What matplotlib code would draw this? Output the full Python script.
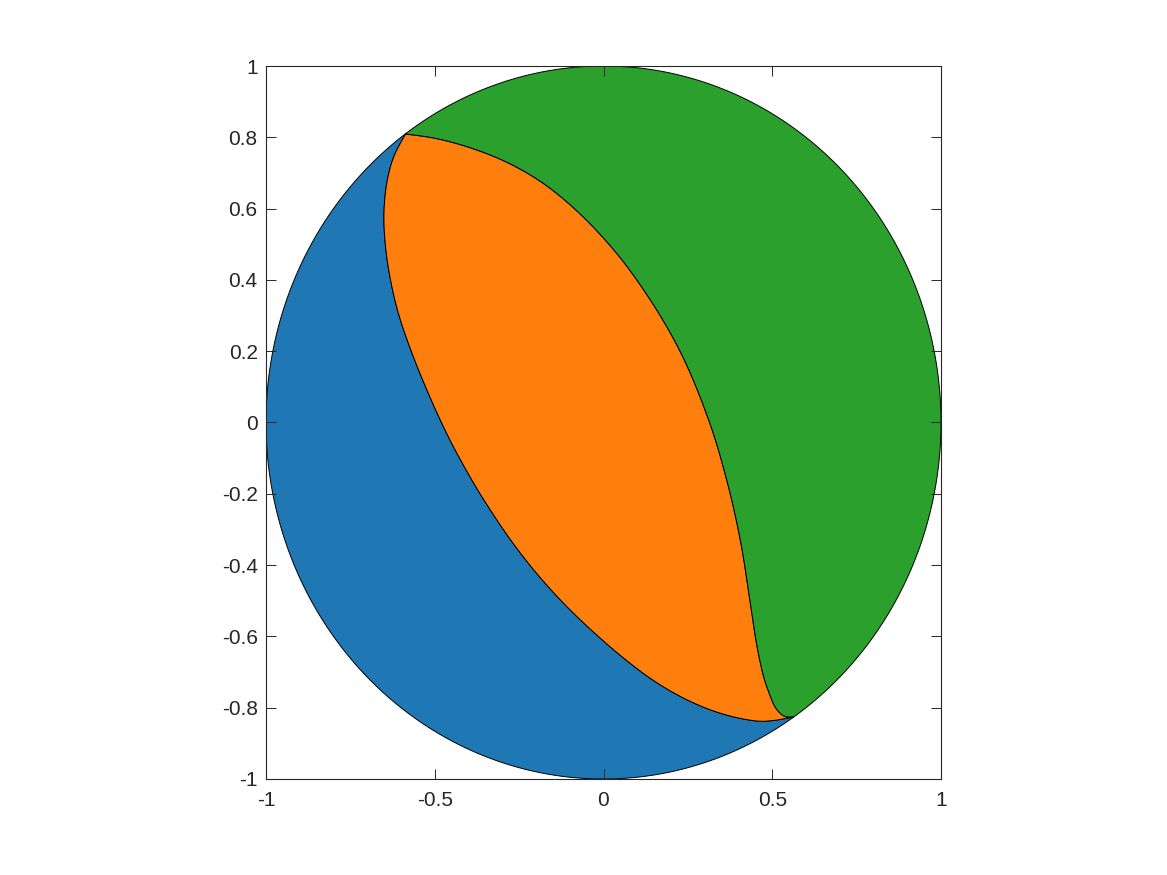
import numpy as np
import matplotlib
matplotlib.use("Agg")
import matplotlib.pyplot as plt
from matplotlib.patches import Polygon

# Boundary between blue and orange regions (from top cusp down to bottom junction)
left_x = [-0.5867, -0.6228, -0.6424, -0.6524, -0.6542, -0.6504, -0.6406, -0.6276,
          -0.6127, -0.5881, -0.5585, -0.5289, -0.4942, -0.4548, -0.4154, -0.3724,
          -0.3363, -0.2770, -0.2080, -0.1387, -0.0599, 0.0193, 0.0933, 0.1873,
          0.2859, 0.3846, 0.4539, 0.5031, 0.5319, 0.5615]
left_y = [0.8093, 0.7456, 0.6895, 0.6334, 0.5773, 0.5119, 0.4466, 0.3717,
          0.3156, 0.2407, 0.1753, 0.1004, 0.0258, -0.0491, -0.1240, -0.1893,
          -0.2454, -0.3296, -0.4137, -0.4886, -0.5633, -0.6289, -0.6886, -0.7504,
          -0.7972, -0.8297, -0.8410, -0.8365, -0.8317, -0.8261]

# Boundary between orange and green regions (from top cusp down to bottom junction)
right_x = [-0.5867, -0.4942, -0.3956, -0.2969, -0.2178, -0.1289, -0.0696, -0.0104,
           0.0489, 0.1081, 0.1576, 0.2068, 0.2465, 0.2661, 0.3058, 0.3452,
           0.3748, 0.3994, 0.4193, 0.4391, 0.4519, 0.4637, 0.4836, 0.5031,
           0.5327, 0.5615]
right_y = [0.8093, 0.7972, 0.7736, 0.7363, 0.6990, 0.6381, 0.5868, 0.5307,
           0.4651, 0.3905, 0.3156, 0.2407, 0.1661, 0.1192, 0.0258, -0.0864,
           -0.1986, -0.2923, -0.4045, -0.5352, -0.6101, -0.6850, -0.7504, -0.7972,
           -0.8233, -0.8261]

colors = ["#1f77b4", "#ff7f0e", "#2ca02c"]

xticks = [-1, -0.5, 0, 0.5, 1]
xticklabels = ["-1", "-0.5", "0", "0.5", "1"]
yticks = [-1, -0.8, -0.6, -0.4, -0.2, 0, 0.2, 0.4, 0.6, 0.8, 1]
yticklabels = ["-1", "-0.8", "-0.6", "-0.4", "-0.2", "0", "0.2", "0.4", "0.6", "0.8", "1"]

plt.rcParams['font.family'] = ['Liberation Sans', 'DejaVu Sans']


def smooth(xs, ys, n=20, npts=700, win=71, ramp=0.10):
    """Smooth rendering of a polyline: Catmull-Rom, arc-length resampling,
    then a moving average that fades out towards both ends."""
    p = np.column_stack([xs, ys])
    p = np.vstack([2 * p[0] - p[1], p, 2 * p[-1] - p[-2]])
    out = []
    for i in range(1, len(p) - 2):
        p0, p1, p2, p3 = p[i - 1], p[i], p[i + 1], p[i + 2]
        for s in np.linspace(0, 1, n, endpoint=False):
            s2, s3 = s * s, s * s * s
            out.append(0.5 * ((2 * p1) + (-p0 + p2) * s +
                              (2 * p0 - 5 * p1 + 4 * p2 - p3) * s2 +
                              (-p0 + 3 * p1 - 3 * p2 + p3) * s3))
    out.append(p[-2])
    c = np.array(out)
    d = np.r_[0, np.cumsum(np.hypot(*np.diff(c, axis=0).T))]
    u = np.linspace(0, d[-1], npts)
    c = np.column_stack([np.interp(u, d, c[:, 0]), np.interp(u, d, c[:, 1])])
    h = win // 2
    pad_a = 2 * c[0] - c[h:0:-1]
    pad_b = 2 * c[-1] - c[-2:-h - 2:-1]
    cp = np.vstack([pad_a, c, pad_b])
    k = np.ones(win) / win
    sm = np.column_stack([np.convolve(cp[:, 0], k, mode='valid'),
                          np.convolve(cp[:, 1], k, mode='valid')])
    f = u / d[-1]
    w = np.clip(np.minimum(f, 1 - f) / ramp, 0, 1)
    w = w * w * (3 - 2 * w)
    return c + w[:, None] * (sm - c)


fig = plt.figure(figsize=(11.67, 8.75), dpi=100)
ax = fig.add_axes([266/1167, 1 - 779/875, (941 - 266)/1167, (779 - 66)/875])

L = smooth(left_x, left_y)
R = smooth(right_x, right_y)

a_cusp = np.arctan2(left_y[0], left_x[0])
a_j = np.arctan2(left_y[-1], left_x[-1]) + 2 * np.pi

# blue: arc from cusp counterclockwise to junction, back along left boundary
t = np.linspace(a_cusp, a_j, 400)
blue = np.vstack([np.column_stack([np.cos(t), np.sin(t)]), L[::-1]])
# green: arc from junction counterclockwise to cusp, then along right boundary
t2 = np.linspace(a_j - 2 * np.pi, a_cusp, 400)
green = np.vstack([np.column_stack([np.cos(t2), np.sin(t2)]), R])
# orange: left boundary then right boundary reversed
orange = np.vstack([L, R[::-1]])

for poly, c in zip([blue, orange, green], colors):
    ax.add_patch(Polygon(poly, closed=True, facecolor=c, edgecolor='black',
                         linewidth=0.7, joinstyle='round'))

ax.set_xlim(-1, 1)
ax.set_ylim(-1, 1)
ax.set_xticks(xticks)
ax.set_xticklabels(xticklabels)
ax.set_yticks(yticks)
ax.set_yticklabels(yticklabels)
ax.tick_params(direction='in', length=7, width=0.7, colors='#262626',
               labelsize=15, top=True, right=True)
ax.tick_params(axis='y', pad=6)
ax.tick_params(axis='x', pad=9)
for s in ax.spines.values():
    s.set_color('#262626')
    s.set_linewidth(0.8)

fig.savefig("out.png", dpi=100)
